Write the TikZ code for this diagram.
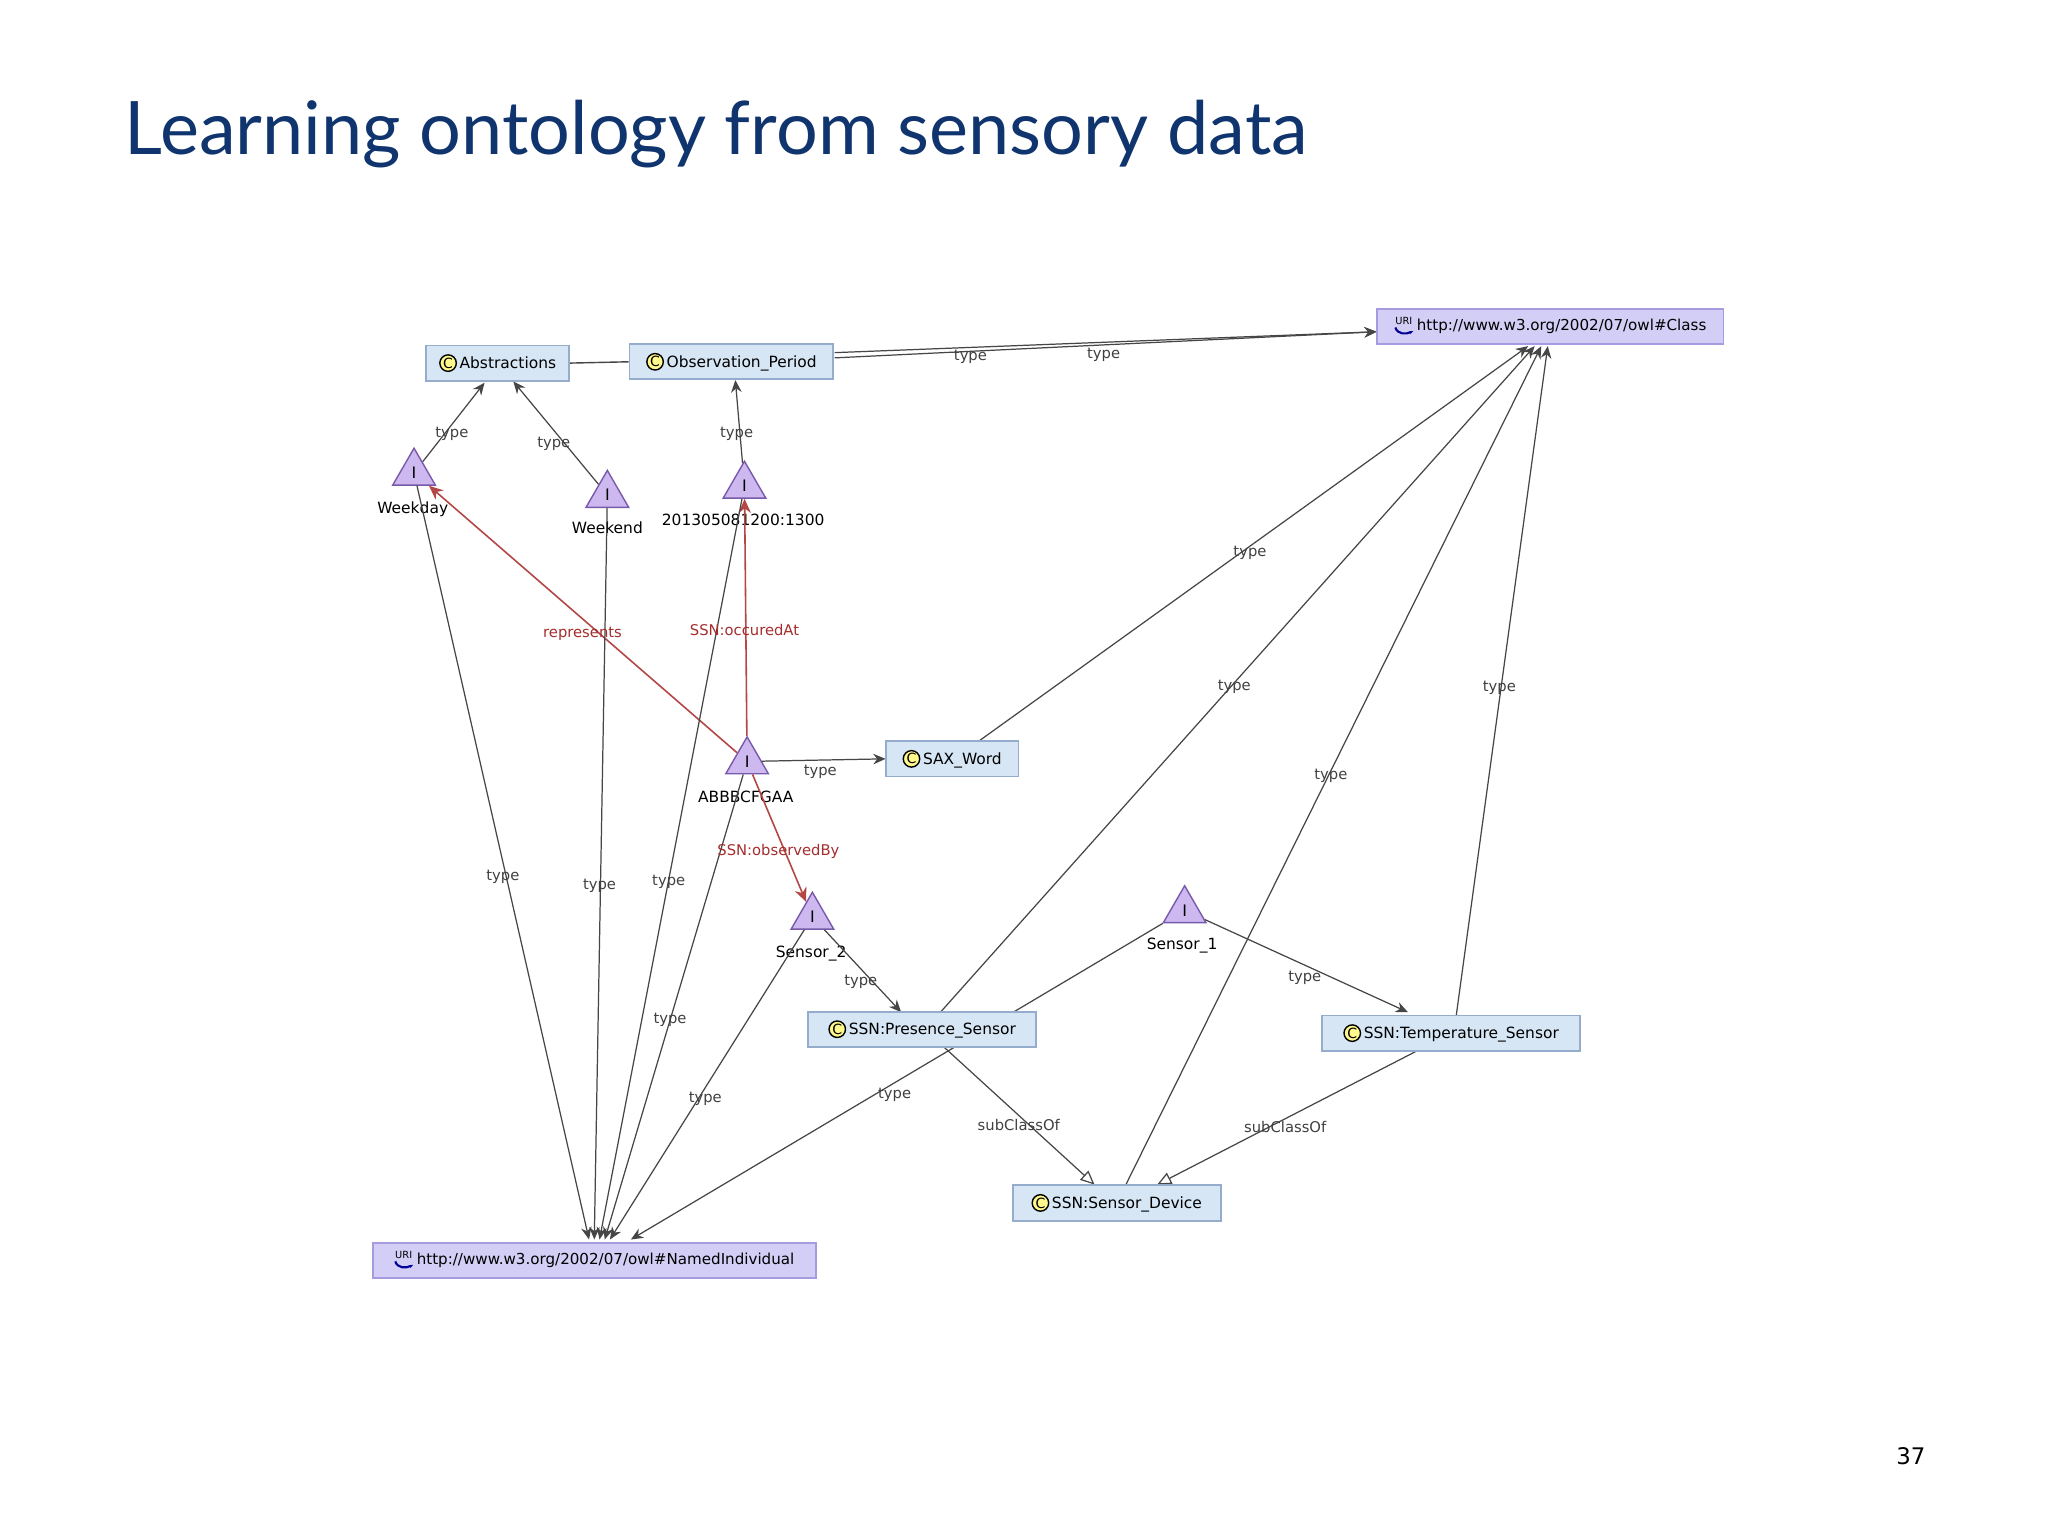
\documentclass[tikz,border=0pt]{standalone}
\usepackage{fontspec}
\setmainfont{DejaVu Sans}
\newfontfamily\titlefont{Lato}
\usetikzlibrary{arrows.meta,shapes.geometric,calc}
\definecolor{ttl}{RGB}{16,52,110}
\definecolor{cbox}{RGB}{214,230,245}
\definecolor{cbord}{RGB}{150,172,205}
\definecolor{ubox}{RGB}{210,206,246}
\definecolor{ubord}{RGB}{165,155,222}
\definecolor{ind}{RGB}{205,185,240}
\definecolor{indb}{RGB}{120,90,170}
\definecolor{edg}{RGB}{70,70,70}
\definecolor{redg}{RGB}{180,70,70}
\definecolor{rlab}{RGB}{165,45,45}
\newcommand{\cicon}{\tikz[baseline=-1.5pt,x=1pt,y=1pt]\node[circle,draw=black,fill=yellow!45,inner sep=0.2pt,minimum width=0pt,minimum height=0pt,font=\fontsize{4}{4}\selectfont]{C};\,}
\newcommand{\uicon}{\tikz[baseline=-1.5pt,x=1pt,y=1pt]{\node[inner sep=0pt,minimum width=0pt,minimum height=0pt,font=\fontsize{2.8}{2.8}\selectfont] at (0,1.2) {URI};\draw[blue!60!black,line width=0.6pt,-{Stealth[length=1.2pt]}] (-2.4,-0.6) .. controls (-1.8,-2.6) and (0.6,-2.6) .. (2.7,-1.6);}\,}
\tikzset{
  cls/.style={draw=cbord,fill=cbox,line width=0.5pt,minimum height=10pt,inner sep=1pt,font=\fontsize{4.4}{5}\selectfont},
  uri/.style={draw=ubord,fill=ubox,line width=0.5pt,minimum height=10pt,inner sep=1pt,font=\fontsize{4.3}{5}\selectfont},
  indv/.style={regular polygon,regular polygon sides=3,draw=indb,fill=ind,line width=0.4pt,minimum size=14pt,inner sep=0pt,font=\fontsize{4.5}{5}\selectfont,text depth=0pt},
  ilab/.style={font=\fontsize{4.4}{5}\selectfont,inner sep=0.5pt},
  elab/.style={font=\fontsize{4.2}{5}\selectfont,text=black!75,inner sep=0.5pt},
  rlabs/.style={font=\fontsize{4.2}{5}\selectfont,text=rlab,inner sep=0.5pt},
  e/.style={draw=edg,line width=0.35pt,-{Stealth[length=3.5pt,width=3pt]}},
  r/.style={draw=redg,line width=0.45pt,-{Stealth[length=4pt,width=3.5pt]}},
  sub/.style={draw=edg,line width=0.35pt,-{Triangle[open,length=4pt,width=3.5pt]}},
}
\begin{document}
\begin{tikzpicture}[x=0.013061cm,y=-0.013061cm]
\useasboundingbox[fill=white] (0,0) rectangle (1568,1176);
\node[anchor=base west,inner sep=0,text=ttl,font=\titlefont\fontsize{21}{25}\selectfont] (title) at (95,118) {Learning ontology from sensory data};
\node[font=\fontsize{6.5}{8}\selectfont] (pg) at (1463,1115) {37};

% individuals
\node[indv] (wd) at (317,362) {I};
\node[ilab] (wdl) at (316,390) {Weekday};
\node[indv] (we) at (465,379) {I};
\node[ilab] (wel) at (465,404) {Weekend};
\node[indv] (op) at (570,372) {I};
\node[ilab] (opl) at (569,398) {201305081200:1300};
\node[indv] (ab) at (572,583) {I};
\node[ilab] (abl) at (571,610) {ABBBCFGAA};
\node[indv] (s2) at (622,702) {I};
\node[ilab] (s2l) at (621,730) {Sensor\_2};
\node[indv] (s1) at (907,697) {I};
\node[ilab] (s1l) at (905,724) {Sensor\_1};

% anchor coordinates
\coordinate (absa) at (371,293);
\coordinate (absb) at (393,292);
\coordinate (obsn) at (563,291);
\coordinate (o1) at (639,270);
\coordinate (o2) at (639,274);
\coordinate (cw) at (1054,254);
\coordinate (c1) at (1170,265);
\coordinate (c2) at (1175,265);
\coordinate (c3) at (1180,265);
\coordinate (c4) at (1185,265);
\coordinate (saxn) at (750,567);
\coordinate (saxw) at (678,581);
\coordinate (pn) at (720,775);
\coordinate (pn2) at (690,775);
\coordinate (dn) at (862,907);
\coordinate (tn) at (1115,777);
\coordinate (tn2) at (1078,775);
\coordinate (n1) at (451,949);
\coordinate (n2) at (455,949);
\coordinate (n3) at (459,949);
\coordinate (n4) at (463,949);
\coordinate (n5) at (467,949);
\coordinate (n6) at (483,949);
\coordinate (ps) at (722,801);
\coordinate (pd) at (838,907);
\coordinate (ts) at (1086,804);
\coordinate (td) at (886,907);

% edges
\draw[e] (o1) -- (cw);
\draw[e] (o2) -- (cw);
\draw[e] (wd) -- (absa);
\draw[e] (we) -- (absb);
\draw[e] (op) -- (obsn);
\draw[r] (ab) -- (wd);
\draw[r] (ab) -- (op);
\draw[e] (ab) -- (saxw);
\draw[r] (ab) -- (s2);
\draw[e] (saxn) -- (c1);
\draw[e] (pn) -- (c2);
\draw[e] (dn) -- (c3);
\draw[e] (tn) -- (c4);
\draw[e] (s1) -- (tn2);
\draw[e] (s1) -- (n6);
\draw[e] (s2) -- (pn2);
\draw[e] (s2) -- (n5);
\draw[e] (wd) -- (n1);
\draw[e] (we) -- (n2);
\draw[e] (op) -- (n3);
\draw[e] (ab) -- (n4);
\draw[sub] (ps) -- (pd);
\draw[sub] (ts) -- (td);

% class nodes
\node[cls,minimum width=40.7pt] (abs) at (381,278) {\cicon Abstractions};
\node[cls,minimum width=58pt] (obs) at (560,277) {\cicon Observation\_Period};
\draw[draw=edg,line width=0.4pt] (abs.east) -- (obs.west);
\node[uri,minimum width=98.5pt] (cls) at (1187,250) {\uicon http://www.w3.org/2002/07/owl\#Class};
\node[cls,minimum width=37.8pt] (sax) at (729,581) {\cicon SAX\_Word};
\node[cls,minimum width=65pt] (pres) at (706,788) {\cicon SSN:Presence\_Sensor};
\node[cls,minimum width=73.3pt] (temp) at (1111,791) {\cicon SSN:Temperature\_Sensor};
\node[cls,minimum width=59.2pt,minimum height=10.4pt] (dev) at (855,921) {\cicon SSN:Sensor\_Device};
\node[uri,minimum width=126pt] (ni) at (455,965) {\uicon http://www.w3.org/2002/07/owl\#NamedIndividual};

% edge labels
\node[elab] at (743,273) {type};
\node[elab] at (845,272) {type};
\node[elab] at (346,332) {type};
\node[elab] at (424,340) {type};
\node[elab] at (564,332) {type};
\node[rlabs] at (446,485) {represents};
\node[rlabs] at (570,482) {SSN:occuredAt};
\node[elab] at (628,591) {type};
\node[rlabs] at (596,652) {SSN:observedBy};
\node[elab] at (957,423) {type};
\node[elab] at (945,526) {type};
\node[elab] at (1019,594) {type};
\node[elab] at (1148,527) {type};
\node[elab] at (999,749) {type};
\node[elab] at (685,838) {type};
\node[elab] at (659,752) {type};
\node[elab] at (540,841) {type};
\node[elab] at (385,671) {type};
\node[elab] at (459,678) {type};
\node[elab] at (512,675) {type};
\node[elab] at (513,781) {type};
\node[elab] at (780,861) {subClassOf};
\node[elab] at (984,863) {subClassOf};
\end{tikzpicture}
\end{document}
